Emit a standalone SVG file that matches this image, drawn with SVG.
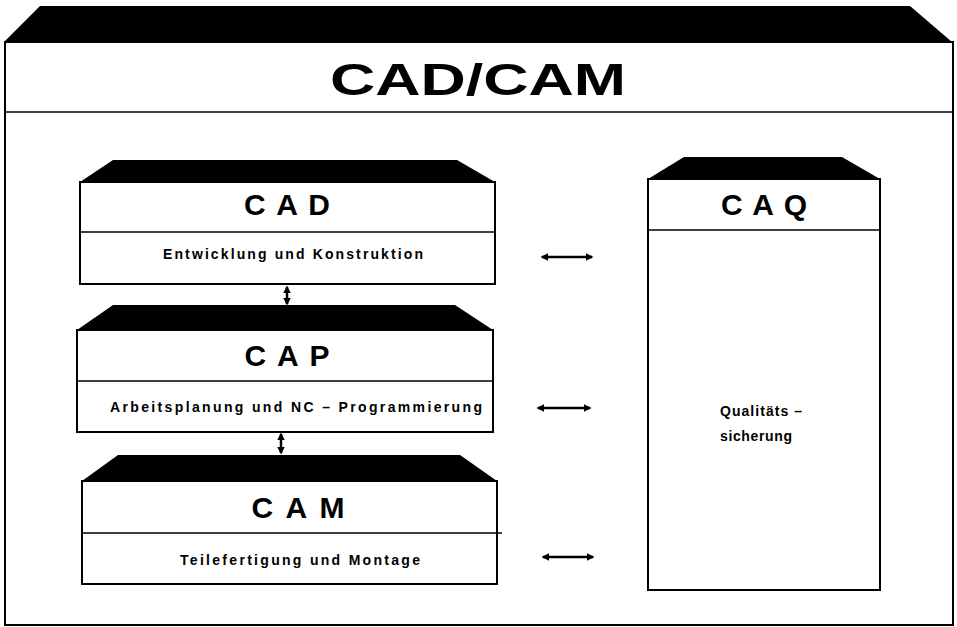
<svg xmlns="http://www.w3.org/2000/svg" width="957" height="627" viewBox="0 0 957 627">
<style>
.band{fill:#000}
.box{fill:#fff;stroke:#000;stroke-width:2}
.div{stroke:#000;stroke-width:1.6;fill:none}
.title{font-family:"Liberation Sans",Arial,sans-serif;font-weight:bold;fill:#000;text-anchor:middle}
.sub{font-family:"Liberation Sans",Arial,sans-serif;font-weight:bold;font-size:14px;fill:#000;text-anchor:middle}
.conn{stroke:#000;stroke-width:2.5;fill:none}
</style>
<defs>
<marker id="ah" viewBox="0 0 10 10" refX="8" refY="5" markerWidth="3.2" markerHeight="3" orient="auto-start-reverse" markerUnits="strokeWidth">
<path d="M0,0 L10,5 L0,10 z" fill="#000"/>
</marker>
</defs>
<g id="frame">
<polygon class="band" points="40,6 910,6 952,42 4,42"/>
<rect class="box" x="5" y="42" width="948" height="583"/>
<line class="div" x1="5" y1="112" x2="953" y2="112"/>
<text class="title" x="478" y="95" font-size="44" textLength="296" lengthAdjust="spacingAndGlyphs">CAD/CAM</text>
</g>
<g id="cad">
<polygon class="band" points="113,160 457,160 495,182 80,182"/>
<rect class="box" x="80" y="182" width="415" height="102"/>
<line class="div" x1="80" y1="232" x2="495" y2="232"/>
<text class="title" x="287" y="215" font-size="30" textLength="86" lengthAdjust="spacing">CAD</text>
<text class="sub" x="293" y="259" textLength="260" lengthAdjust="spacing">Entwicklung und Konstruktion</text>
</g>
<g id="cap">
<polygon class="band" points="113,305 455,305 493,330 77,330"/>
<rect class="box" x="77" y="330" width="416" height="102"/>
<line class="div" x1="77" y1="381" x2="493" y2="381"/>
<text class="title" x="287" y="366" font-size="30" textLength="85" lengthAdjust="spacing">CAP</text>
<text class="sub" x="296" y="412" textLength="372" lengthAdjust="spacing">Arbeitsplanung und NC – Programmierung</text>
</g>
<g id="cam">
<polygon class="band" points="118,455 460,455 497,481 82,481"/>
<rect class="box" x="82" y="481" width="415" height="103"/>
<line class="div" x1="82" y1="533" x2="502" y2="533"/>
<text class="title" x="298" y="518" font-size="30" textLength="93" lengthAdjust="spacing">CAM</text>
<text class="sub" x="300" y="565" textLength="240" lengthAdjust="spacing">Teilefertigung und Montage</text>
</g>
<g id="caq">
<polygon class="band" points="684,157 842,157 880,179 648,179"/>
<rect class="box" x="648" y="179" width="232" height="411"/>
<line class="div" x1="648" y1="230" x2="880" y2="230"/>
<text class="title" x="764" y="215" font-size="30" textLength="86" lengthAdjust="spacing">CAQ</text>
<text class="sub" x="720" y="416" style="text-anchor:start" textLength="82" lengthAdjust="spacing">Qualitäts –</text>
<text class="sub" x="720" y="441" style="text-anchor:start" textLength="72" lengthAdjust="spacing">sicherung</text>
</g>
<g id="connectors">
<line class="conn" x1="287" y1="287" x2="287" y2="304" marker-start="url(#ah)" marker-end="url(#ah)"/>
<line class="conn" x1="281" y1="434" x2="281" y2="453" marker-start="url(#ah)" marker-end="url(#ah)"/>
<line class="conn" x1="542" y1="257" x2="592" y2="257" marker-start="url(#ah)" marker-end="url(#ah)"/>
<line class="conn" x1="538" y1="408" x2="590" y2="408" marker-start="url(#ah)" marker-end="url(#ah)"/>
<line class="conn" x1="543" y1="557" x2="593" y2="557" marker-start="url(#ah)" marker-end="url(#ah)"/>
</g>
</svg>
